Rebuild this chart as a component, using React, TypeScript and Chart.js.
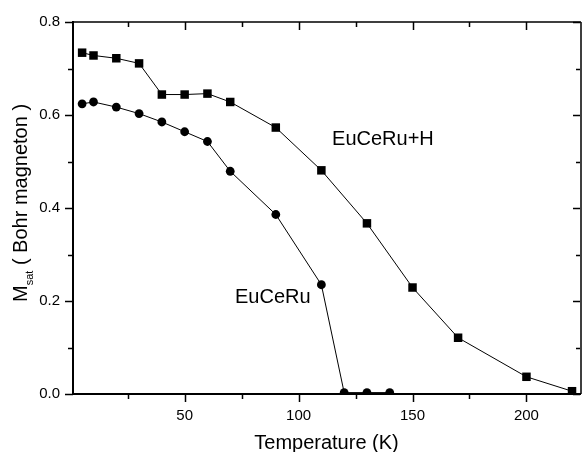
import { useEffect, useRef } from "react";
import { Chart, registerables } from "chart.js";

Chart.register(...registerables);

// EuCeRu+H (squares)
const temperatureH = [5, 10, 20, 30, 40, 50, 60, 70, 90, 110, 130, 150, 170, 200, 220];
const msatH = [0.734, 0.728, 0.722, 0.711, 0.644, 0.644, 0.646, 0.628, 0.573, 0.481, 0.367, 0.229, 0.121, 0.037, 0.006];

// EuCeRu (circles)
const temperature = [5, 10, 20, 30, 40, 50, 60, 70, 90, 110, 120, 130, 140];
const msat = [0.624, 0.628, 0.617, 0.603, 0.585, 0.564, 0.543, 0.479, 0.386, 0.235, 0.003, 0.003, 0.003];

const xMinorTicks = [25, 75, 125, 175];
const xMajorTicks = [50, 100, 150, 200];
const yMinorTicks = [0.1, 0.3, 0.5, 0.7];
const yMajorTicks = [0.0, 0.2, 0.4, 0.6, 0.8];

const seriesNames = ["EuCeRu+H", "EuCeRu"];
const seriesLabelT = [114.7, 72.1];
const seriesLabelM = [0.535, 0.195];

const xTitle = "Temperature (K)";
const yTitleMain = "M";
const yTitleSub = "sat";
const yTitleRest = " ( Bohr magneton )";

const FONT = "'Liberation Sans', Arial, Helvetica, sans-serif";

const axisPlugin = {
  id: "originAxes",
  afterDraw(chart: any) {
    const { ctx, chartArea } = chart;
    const xs = chart.scales.x;
    const ys = chart.scales.y;
    const { left, right, top, bottom } = chartArea;
    ctx.save();
    ctx.strokeStyle = "#000";
    ctx.fillStyle = "#000";

    // frame
    ctx.lineWidth = 2;
    ctx.beginPath();
    ctx.moveTo(left, top - 1);
    ctx.lineTo(left, bottom);
    ctx.lineTo(right + 1, bottom);
    ctx.stroke();
    ctx.lineWidth = 1.5;
    ctx.beginPath();
    ctx.moveTo(left, top);
    ctx.lineTo(right + 1, top);
    ctx.moveTo(right + 1, top);
    ctx.lineTo(right + 1, bottom);
    ctx.stroke();

    // x ticks (bottom outward, top inward)
    ctx.lineWidth = 1.5;
    const xt = (vals: number[], len: number) => {
      vals.forEach((v) => {
        const px = Math.round(xs.getPixelForValue(v)) + 0.5;
        ctx.beginPath();
        ctx.moveTo(px, bottom);
        ctx.lineTo(px, bottom + len);
        ctx.moveTo(px, top);
        ctx.lineTo(px, top + len);
        ctx.stroke();
      });
    };
    xt(xMajorTicks, 8);
    xt(xMinorTicks, 5);

    // y ticks (left outward, right inward)
    const yt = (vals: number[], len: number) => {
      vals.forEach((v) => {
        const py = Math.round(ys.getPixelForValue(v)) + 0.5;
        ctx.beginPath();
        ctx.moveTo(left, py);
        ctx.lineTo(left - len, py);
        ctx.moveTo(right, py);
        ctx.lineTo(right - len + 1, py);
        ctx.stroke();
      });
    };
    yt(yMajorTicks, 8);
    yt(yMinorTicks, 5);

    // x title
    ctx.font = `20px ${FONT}`;
    ctx.textAlign = "center";
    ctx.textBaseline = "alphabetic";
    ctx.fillText(xTitle, (left + right) / 2, 449);

    // y title (rotated, with subscript)
    ctx.save();
    ctx.translate(27, 302);
    ctx.rotate(-Math.PI / 2);
    ctx.textAlign = "left";
    ctx.font = `20px ${FONT}`;
    ctx.fillText(yTitleMain, 0, 0);
    let off = ctx.measureText(yTitleMain).width;
    ctx.font = `11px ${FONT}`;
    ctx.fillText(yTitleSub, off, 6);
    off += ctx.measureText(yTitleSub).width;
    ctx.font = `20px ${FONT}`;
    ctx.fillText(yTitleRest, off, 0);
    ctx.restore();

    // series labels
    ctx.font = `20px ${FONT}`;
    ctx.textAlign = "left";
    seriesNames.forEach((name, i) => {
      ctx.fillText(name, xs.getPixelForValue(seriesLabelT[i]), ys.getPixelForValue(seriesLabelM[i]));
    });
    ctx.restore();
  },
};

export default function App() {
  const ref = useRef<HTMLCanvasElement | null>(null);

  useEffect(() => {
    if (!ref.current) return;
    const chart = new Chart(ref.current, {
      type: "line",
      data: {
        datasets: [
          {
            label: seriesNames[0],
            data: temperatureH.map((t, i) => ({ x: t, y: msatH[i] })),
            borderColor: "#000",
            borderWidth: 1,
            backgroundColor: "#000",
            pointStyle: "rect",
            pointRadius: 6,
            pointBorderWidth: 0,
            pointBackgroundColor: "#000",
            tension: 0,
          },
          {
            label: seriesNames[1],
            data: temperature.map((t, i) => ({ x: t, y: msat[i] })),
            borderColor: "#000",
            borderWidth: 1,
            backgroundColor: "#000",
            pointStyle: "circle",
            pointRadius: 4.4,
            pointBorderWidth: 0,
            pointBackgroundColor: "#000",
            tension: 0,
          },
        ],
      },
      options: {
        responsive: false,
        animation: false,
        layout: { padding: { left: 0, top: 18, right: 0, bottom: 0 } },
        plugins: { legend: { display: false }, tooltip: { enabled: false } },
        scales: {
          x: {
            type: "linear",
            min: 1,
            max: 223.5,
            grid: { display: false, drawTicks: false },
            border: { display: false },
            afterBuildTicks: (s: any) => {
              s.ticks = xMajorTicks.map((v) => ({ value: v }));
            },
            afterFit: (s: any) => {
              s.height = 58;
            },
            ticks: {
              padding: 13,
              autoSkip: false,
              maxRotation: 0,
              color: "#000",
              font: { family: FONT, size: 15 },
              callback: (v: any) => String(v),
            },
          },
          y: {
            type: "linear",
            min: 0,
            max: 0.8,
            grid: { display: false, drawTicks: false },
            border: { display: false },
            afterBuildTicks: (s: any) => {
              s.ticks = yMajorTicks.map((v) => ({ value: v }));
            },
            afterFit: (s: any) => {
              s.width = 73;
            },
            ticks: {
              padding: 13,
              color: "#000",
              font: { family: FONT, size: 15 },
              callback: (v: any) => Number(v).toFixed(1),
            },
          },
        },
      },
      plugins: [axisPlugin],
    });
    return () => chart.destroy();
  }, []);

  return (
    <div style={{ position: "absolute", left: 0, top: 0, width: 586, height: 452, background: "#fff" }}>
      <canvas ref={ref} width={586} height={452} style={{ display: "block" }} />
    </div>
  );
}
